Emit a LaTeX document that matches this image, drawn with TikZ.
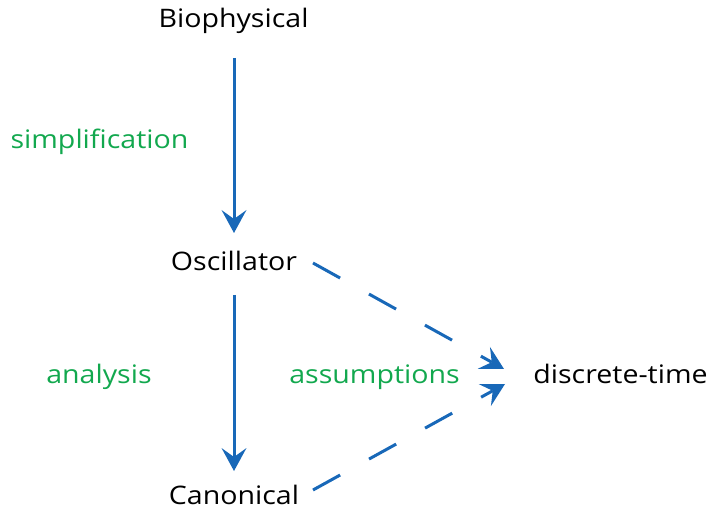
\documentclass[tikz,border=0pt]{standalone}
\usepackage{fontspec}
\setmainfont[FakeStretch=1.12]{Open Sans}
\usetikzlibrary{calc}
\definecolor{arrblue}{RGB}{24,104,184}
\definecolor{labgreen}{RGB}{18,168,78}
\tikzset{
  lab/.style={font=\fontsize{25.5}{28}\selectfont, inner sep=0pt, anchor=base, text=black},
  glab/.style={lab, text=labgreen},
  conn/.style={draw=arrblue, line width=3pt},
  dconn/.style={conn, dash pattern=on 31pt off 33pt},
  tipfill/.style={fill=arrblue, draw=none}
}
\newcommand\mytip[2]{%
  \fill[tipfill] (#2) -- ($($(#2)!23pt!(#1)$)!12.5pt!90:(#2)$)
    -- ($(#2)!14pt!(#1)$) -- ($($(#2)!23pt!(#1)$)!12.5pt!-90:(#2)$) -- cycle;}
\begin{document}
\begin{tikzpicture}
\useasboundingbox (0pt,0pt) rectangle (720pt,-518pt);
\node[lab] (bio) at (233.5pt,-28pt) {Biophysical};
\node[lab] (osc) at (234pt,-271pt) {Oscillator};
\node[lab] (can) at (234pt,-504pt) {Canonical};
\node[lab] (dt) at (620.5pt,-384pt) {discrete-time};
\node[glab] (simp) at (99.5pt,-149pt) {simplification};
\node[glab] (ana) at (99pt,-384pt) {analysis};
\node[glab] (ass) at (374.5pt,-384pt) {assumptions};
\coordinate (a1s) at (234pt,-58pt);
\coordinate (a1e) at (234pt,-233pt);
\coordinate (a2s) at (234pt,-295pt);
\coordinate (a2e) at (234pt,-471pt);
\coordinate (d1s) at (313pt,-263pt);
\coordinate (d1e) at (504pt,-369pt);
\coordinate (d2s) at (313pt,-490pt);
\coordinate (d2e) at (505pt,-384pt);
\draw[conn] (a1s) -- ($(a1e)!14pt!(a1s)$);
\draw[conn] (a2s) -- ($(a2e)!14pt!(a2s)$);
\draw[dconn] (d1s) -- ($(d1e)!14pt!(d1s)$);
\draw[dconn] (d2s) -- ($(d2e)!14pt!(d2s)$);
\mytip{a1s}{a1e}
\mytip{a2s}{a2e}
\mytip{d1s}{d1e}
\mytip{d2s}{d2e}
\end{tikzpicture}
\end{document}
